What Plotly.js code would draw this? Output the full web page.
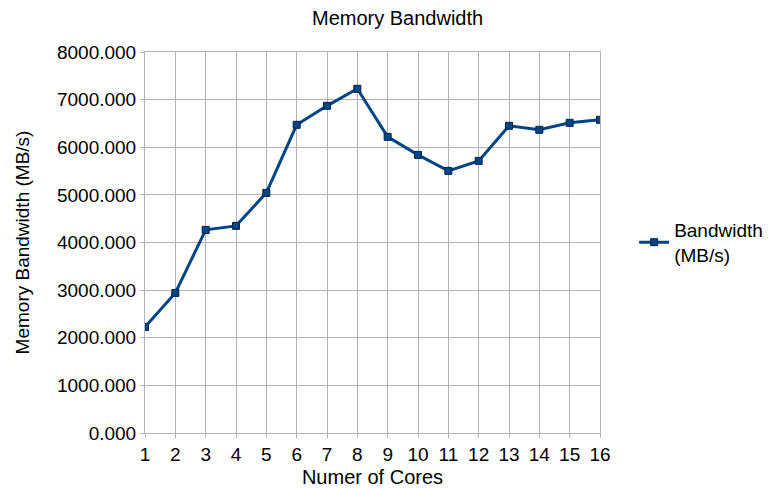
<!DOCTYPE html>
<html><head><script src="https://cdn.plot.ly/plotly-3.0.1.min.js"></script></head>
<body style="margin:0">
<div id="c" style="width:775px;height:488px"></div>
<script>
const cores = [1,2,3,4,5,6,7,8,9,10,11,12,13,14,15,16];
const bandwidth = [2227,2941,4265,4349,5042,6471,6870,7227,6218,5840,5504,5714,6450,6366,6513,6576];
const seriesName = 'Bandwidth<br>(MB/s)';
Plotly.newPlot('c', [{
  x: cores, y: bandwidth, name: seriesName, type: 'scatter', mode: 'lines+markers',
  line: {color: '#004586', width: 3},
  marker: {symbol: 'square', size: 7, color: '#004586', line: {color: '#00234a', width: 1}}
}], {
  width: 775, height: 488,
  font: {family: 'Liberation Sans, Arial, sans-serif', size: 19, color: '#000'},
  title: {text: 'Memory Bandwidth', font: {size: 20}, x: 0.513, xanchor: 'center', y: 0.978},
  margin: {l: 145, r: 175, t: 52, b: 55, autoexpand: false},
  showlegend: true,
  legend: {x: 1.075, y: 0.5, yanchor: 'middle', font: {size: 19}, itemwidth: 30},
  xaxis: {range: [1,16], tickvals: cores, showgrid: true, gridcolor: '#b3b3b3', linecolor: '#b3b3b3',
    showline: true, mirror: true, ticks: 'outside', ticklen: 4, tickcolor: '#b3b3b3', zeroline: false,
    title: {text: 'Numer of Cores', font: {size: 20}, standoff: 16}},
  yaxis: {range: [0,8000], dtick: 1000, tickformat: '.3f', showgrid: true, gridcolor: '#b3b3b3',
    linecolor: '#b3b3b3', showline: true, mirror: true, ticks: 'outside', ticklen: 4, tickcolor: '#b3b3b3', zeroline: false,
    title: {text: 'Memory Bandwidth (MB/s)', font: {size: 19}, standoff: 22}},
  plot_bgcolor: '#fff', paper_bgcolor: '#fff'
}, {displayModeBar: false});
</script></body></html>
